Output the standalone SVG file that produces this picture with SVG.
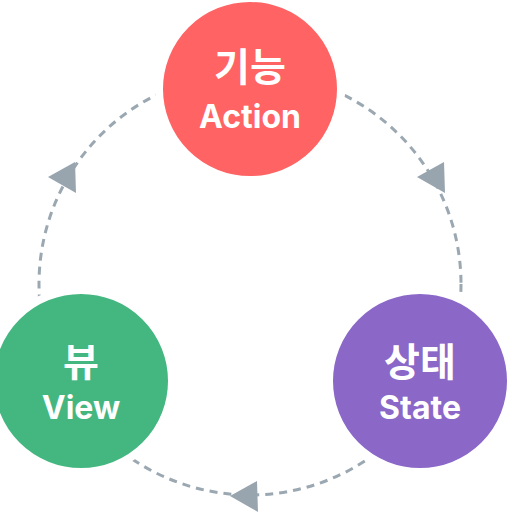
<svg xmlns="http://www.w3.org/2000/svg" width="521" height="521" viewBox="0 0 521 521">
  <style>
    .ring { fill: none; stroke: #9ba8b1; stroke-width: 3; stroke-dasharray: 8 6; }
    .head { fill: #98a5af; }
    .node { stroke: #ffffff; stroke-width: 8; }
    .ko { font-family: "Noto Sans CJK KR", "Noto Sans", sans-serif; font-weight: 700; font-size: 39px; fill: #ffffff; text-anchor: middle; }
    .en { font-family: Inter, "Liberation Sans", sans-serif; font-weight: 700; font-size: 32px; fill: #ffffff; text-anchor: middle; }
  </style>
  <defs>
    <polygon id="tri" points="-13,0 14,-15 15,16"/>
  </defs>
  <rect width="521" height="521" fill="#ffffff"/>

  <!-- cycle connector -->
  <g id="connectors">
    <circle class="ring" cx="250" cy="284" r="211"/>
    <use href="#tri" class="head" x="61" y="177"/>
    <use href="#tri" class="head" x="430" y="177"/>
    <use href="#tri" class="head" x="243" y="496"/>
  </g>

  <g id="node-action">
    <circle class="node" cx="250" cy="89" r="91" fill="#ff6363"/>
    <text class="ko" x="250" y="81">기능</text>
    <text class="en" x="250" y="128">Action</text>
  </g>

  <g id="node-view">
    <circle class="node" cx="81" cy="381" r="91" fill="#44b781"/>
    <text class="ko" x="81" y="376">뷰</text>
    <text class="en" x="81" y="419">View</text>
  </g>

  <g id="node-state">
    <circle class="node" cx="420" cy="381" r="91" fill="#8b67c8"/>
    <text class="ko" x="420" y="376">상태</text>
    <text class="en" x="420" y="419">State</text>
  </g>
</svg>
